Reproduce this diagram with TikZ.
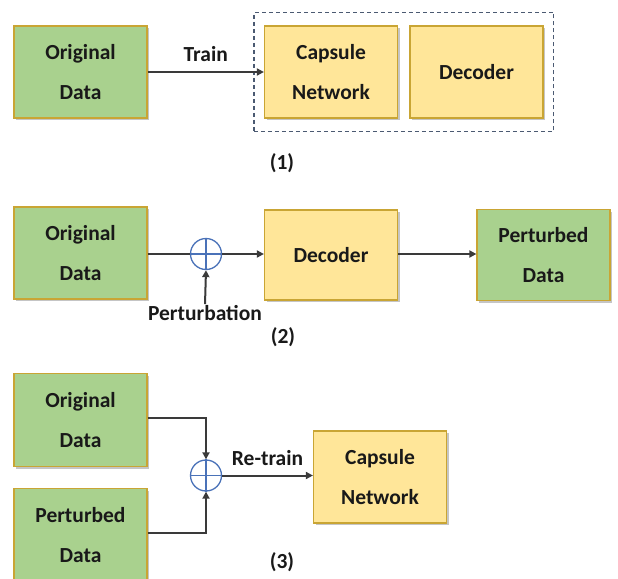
\documentclass[tikz,border=0pt]{standalone}
\usepackage{fontspec}
\setmainfont{Carlito}
\usetikzlibrary{arrows.meta,shadows,fit}

\definecolor{boxgreen}{HTML}{A9D18E}
\definecolor{boxyellow}{HTML}{FFE699}
\definecolor{boxline}{HTML}{C9A534}
\definecolor{sumblue}{HTML}{4A72B8}
\definecolor{arrgrey}{HTML}{3A3A3A}
\definecolor{dashgrey}{HTML}{4B5A72}

\begin{document}
\begin{tikzpicture}[x=1pt, y=-1pt,
    blk/.style={draw=boxline, line width=1.2pt, minimum width=133pt, minimum height=92pt,
        inner sep=0pt, align=center, text=black!90,
        font=\fontsize{21.5}{40}\selectfont\bfseries,
        drop shadow={shadow xshift=2pt, shadow yshift=-2pt, fill=black!45, opacity=0.5}},
    datablk/.style={blk, fill=boxgreen},
    netblk/.style={blk, fill=boxyellow},
    sumnode/.style={circle, draw=sumblue, line width=1.3pt, minimum size=31pt, inner sep=0pt},
    arr/.style={draw=arrgrey, line width=2pt, -{Triangle[length=7pt, width=7pt]}},
    lbl/.style={font=\fontsize{21.5}{24}\selectfont\bfseries, text=black!90, inner sep=1pt}]

    \useasboundingbox (0,0) rectangle (618,578);

    % (1) train
    \node[datablk] (orig1) at (80.5,72) {Original\\Data};
    \node[netblk] (caps1) at (331,72) {Capsule\\Network};
    \node[netblk] (dec1) at (476.5,72) {Decoder};
    \node[draw=dashgrey, dashed, dash pattern=on 4pt off 3pt, line width=1.5pt,
        inner xsep=10pt, inner ysep=13pt, fit=(caps1)(dec1)] (model1) {};
    \draw[arr] (orig1) -- node[lbl, midway, above=8pt] {Train} (caps1);
    \node[lbl] (cap1) at (282,163) {(1)};

    % (2) perturb
    \node[datablk] (orig2) at (80.5,253) {Original\\Data};
    \node[sumnode] (sum2) at (206,254) {};
    \draw[sumblue, line width=1.3pt] (sum2.north) -- (sum2.south) (sum2.west) -- (sum2.east);
    \node[netblk, minimum height=90pt] (dec2) at (331,255) {Decoder};
    \node[datablk, minimum height=91pt] (pert2) at (543.5,255) {Perturbed\\Data};
    \node[lbl] (noise2) at (205,313) {Perturbation};
    \draw[draw=arrgrey, line width=2pt] (orig2.east |- sum2.west) -- (sum2.west);
    \draw[arr] (sum2.east) -- (dec2.west |- sum2.east);
    \draw[arr] (noise2.north) -- (sum2.south);
    \draw[arr] (dec2.east |- sum2.east) -- (pert2.west |- sum2.east);
    \node[lbl] (cap2) at (283,337) {(2)};

    % (3) re-train
    \node[datablk, minimum height=93pt] (orig3) at (80.5,420) {Original\\Data};
    \node[datablk, minimum height=93pt] (pert3) at (80.5,535) {Perturbed\\Data};
    \node[sumnode] (sum3) at (206,475.5) {};
    \draw[sumblue, line width=1.3pt] (sum3.north) -- (sum3.south) (sum3.west) -- (sum3.east);
    \node[netblk] (caps3) at (380,477) {Capsule\\Network};
    \draw[arr] (orig3.east) ++(0,-2) -| (sum3.north);
    \draw[arr] (pert3.east) ++(0,-2) -| (sum3.south);
    \draw[arr] (sum3.east) -- node[lbl, midway, above=8pt] {Re-train} (caps3.west |- sum3.east);
    \node[lbl] (cap3) at (282,562) {(3)};
\end{tikzpicture}
\end{document}
